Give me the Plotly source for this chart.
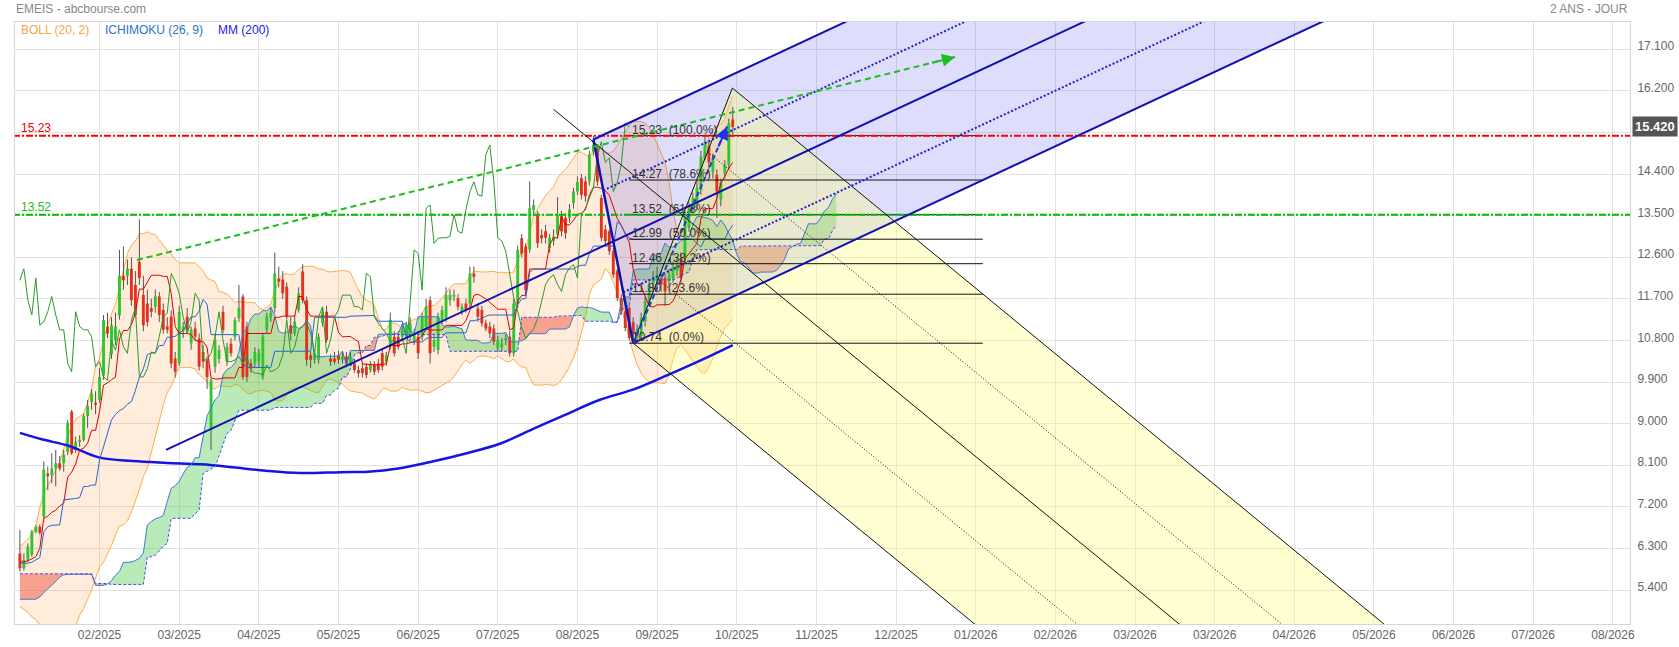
import numpy as np
import plotly.graph_objects as go

# ------------------------------------------------------------------ data (daily bars)
OPEN = [6.19, 5.87, 6.05, 6.16, 6.66, 6.77, 6.99, 7.92, 7.89, 8.03,
        8.14, 8.14, 8.39, 9.26, 8.43, 8.61, 8.65, 9.16, 9.47, 9.45,
        9.51, 10.04, 11.10, 10.50, 10.80, 11.34, 12.20, 12.20, 12.35, 12.00,
        12.50, 11.78, 11.60, 11.50, 11.53, 11.75, 11.46, 11.10, 11.31, 10.41,
        10.30, 11.00, 11.31, 10.74, 11.06, 10.84, 10.55, 10.37, 8.86, 10.23,
        10.40, 11.42, 10.34, 10.73, 10.88, 11.28, 11.75, 11.10, 10.30, 10.30,
        10.35, 10.01, 11.03, 11.30, 11.50, 12.14, 12.12, 11.96, 11.13, 10.95,
        11.46, 12.29, 11.67, 10.48, 10.38, 10.38, 11.17, 11.42, 10.41, 10.41,
        10.48, 10.38, 10.45, 10.30, 10.30, 10.16, 10.20, 10.23, 10.16, 10.27,
        10.30, 10.52, 10.34, 10.66, 10.88, 10.88, 10.88, 10.95, 10.88, 10.81,
        10.88, 10.88, 11.10, 11.67, 10.66, 10.59, 11.24, 11.28, 11.67, 11.75,
        11.71, 11.42, 11.60, 11.60, 12.25, 11.49, 11.46, 11.17, 11.10, 11.06,
        10.63, 10.66, 10.81, 10.88, 10.52, 11.60, 13.01, 12.83, 12.76, 13.62,
        13.51, 13.08, 13.16, 12.80, 12.95, 13.09, 13.49, 13.45, 13.45, 13.77,
        14.02, 14.31, 14.24, 14.24, 14.89, 14.96, 13.88, 13.20, 13.16, 12.73,
        12.30, 11.72, 11.43, 11.50, 11.20, 10.85, 10.90, 11.21, 11.65, 12.01,
        12.08, 12.15, 12.15, 12.08, 12.15, 12.30, 12.58, 12.58, 13.23, 13.66,
        13.74, 14.05, 14.78, 15.00, 14.45, 14.38, 13.85, 14.42, 14.60, 15.58]
HIGH = [6.70, 6.19, 6.41, 6.70, 6.80, 6.82, 8.18, 8.07, 8.36, 8.43,
        8.30, 8.43, 9.08, 9.30, 8.72, 8.75, 9.22, 9.51, 9.75, 9.70,
        10.20, 11.35, 11.40, 11.30, 11.40, 12.76, 12.83, 12.55, 12.60, 12.30,
        13.42, 12.20, 11.90, 11.70, 11.90, 11.85, 11.60, 11.30, 11.45, 10.55,
        11.55, 11.20, 11.50, 11.10, 11.20, 10.95, 10.70, 10.45, 9.98, 10.95,
        10.70, 11.55, 10.75, 10.85, 11.30, 12.00, 11.80, 11.20, 10.40, 10.65,
        10.62, 10.95, 11.40, 11.50, 12.70, 12.40, 12.30, 12.05, 11.30, 11.35,
        11.95, 12.45, 11.75, 10.55, 10.60, 10.95, 11.50, 11.55, 10.50, 10.55,
        10.58, 10.55, 10.55, 10.55, 10.40, 10.25, 10.30, 10.30, 10.35, 10.35,
        10.40, 10.60, 10.55, 11.40, 11.00, 11.00, 11.15, 11.20, 11.30, 11.05,
        11.00, 11.40, 11.70, 11.75, 10.95, 11.40, 11.55, 11.95, 11.90, 11.90,
        11.80, 11.60, 11.70, 12.40, 12.40, 11.60, 11.55, 11.25, 11.20, 11.15,
        10.90, 10.85, 10.95, 11.00, 11.70, 12.85, 13.10, 12.90, 14.24, 13.85,
        13.60, 13.20, 13.30, 13.10, 13.20, 13.90, 13.60, 13.55, 13.75, 14.10,
        14.35, 14.40, 14.35, 14.90, 15.23, 15.05, 13.95, 13.30, 13.20, 12.80,
        12.35, 11.80, 11.50, 11.55, 11.30, 11.15, 11.40, 11.75, 12.10, 12.30,
        12.40, 12.30, 12.25, 12.35, 12.50, 12.60, 12.70, 13.60, 13.80, 14.00,
        14.25, 14.90, 15.25, 15.10, 14.85, 14.50, 14.30, 14.70, 15.60, 15.85]
LOW = [5.80, 5.82, 6.01, 6.12, 6.63, 6.60, 6.95, 7.56, 7.71, 7.64,
       7.98, 7.96, 8.32, 8.32, 8.36, 8.50, 8.61, 8.90, 9.30, 9.20,
       9.45, 9.95, 10.85, 10.40, 10.70, 11.25, 11.90, 12.00, 11.55, 11.30,
       12.00, 11.00, 11.10, 11.30, 11.40, 11.20, 10.95, 10.95, 10.20, 10.00,
       10.25, 10.85, 10.95, 10.60, 10.80, 10.15, 10.20, 9.75, 8.43, 10.10,
       10.30, 10.95, 10.25, 10.45, 10.80, 11.20, 9.95, 9.90, 10.10, 10.20,
       10.22, 9.95, 10.95, 11.20, 11.40, 11.95, 11.70, 11.25, 10.80, 10.90,
       11.40, 11.60, 10.25, 10.20, 10.30, 10.30, 11.10, 10.75, 10.25, 10.28,
       10.30, 10.30, 10.22, 10.25, 10.10, 10.00, 10.00, 9.98, 10.10, 10.05,
       10.10, 10.15, 10.25, 10.60, 10.45, 10.60, 10.80, 10.85, 10.80, 10.70,
       10.40, 10.80, 11.05, 10.30, 10.55, 10.50, 11.15, 11.20, 11.55, 11.65,
       11.45, 11.35, 11.40, 11.50, 12.05, 11.20, 11.10, 11.00, 10.85, 10.70,
       10.55, 10.55, 10.70, 10.45, 10.45, 11.50, 12.60, 11.80, 12.70, 13.50,
       12.80, 12.90, 12.90, 12.70, 12.85, 13.00, 13.05, 13.00, 13.35, 13.65,
       13.95, 13.85, 13.80, 14.15, 14.80, 14.15, 12.95, 12.85, 12.65, 12.15,
       11.65, 11.35, 11.00, 10.80, 10.74, 10.75, 10.80, 11.10, 11.55, 11.90,
       11.95, 11.85, 11.55, 11.95, 12.05, 12.20, 12.05, 12.50, 13.15, 13.55,
       13.60, 13.95, 14.70, 14.50, 14.30, 13.45, 13.70, 14.30, 14.50, 15.25]
CLOSE = [5.87, 6.05, 6.34, 6.66, 6.77, 6.64, 8.00, 7.86, 8.03, 8.14,
         8.03, 8.32, 9.02, 8.36, 8.61, 8.65, 9.16, 9.38, 9.65, 9.41,
         10.01, 11.24, 10.95, 11.13, 11.10, 12.20, 12.10, 12.35, 11.67, 11.35,
         12.15, 11.13, 11.20, 11.42, 11.75, 11.35, 11.03, 11.03, 10.30, 10.12,
         11.42, 11.10, 11.03, 11.03, 10.88, 10.23, 10.34, 10.01, 9.94, 10.80,
         10.59, 11.03, 10.66, 10.52, 11.24, 11.50, 10.01, 10.01, 10.19, 10.55,
         10.52, 10.88, 11.31, 11.39, 12.25, 12.07, 11.82, 11.31, 10.95, 11.21,
         11.82, 11.67, 10.38, 10.38, 10.52, 10.88, 11.42, 10.81, 10.34, 10.34,
         10.38, 10.45, 10.30, 10.45, 10.16, 10.09, 10.09, 10.05, 10.27, 10.12,
         10.16, 10.23, 10.48, 11.24, 10.52, 10.66, 11.03, 11.10, 11.17, 10.95,
         10.52, 11.31, 11.53, 10.52, 10.81, 11.31, 11.46, 11.78, 11.78, 11.78,
         11.53, 11.53, 11.46, 12.25, 12.18, 11.31, 11.17, 11.06, 10.95, 10.77,
         10.81, 10.74, 10.85, 10.52, 11.60, 12.76, 12.68, 11.89, 13.66, 13.73,
         12.90, 13.01, 13.02, 13.02, 13.05, 13.52, 13.16, 13.12, 13.63, 14.02,
         14.23, 13.95, 13.92, 14.82, 15.03, 14.24, 13.02, 12.95, 12.73, 12.22,
         11.72, 11.43, 11.07, 10.85, 10.95, 11.05, 11.28, 11.65, 12.01, 12.15,
         12.22, 12.01, 11.86, 12.22, 12.37, 12.44, 12.15, 13.52, 13.66, 13.88,
         14.10, 14.78, 15.10, 14.65, 14.75, 14.02, 14.22, 14.60, 15.50, 15.42]

TENKAN_EARLY = [6.01, 6.01, 6.03, 6.08, 6.12, 6.30, 6.95, 7.00]
KIJUN_EARLY = [5.98, 5.98, 5.98, 6.00, 6.05, 6.10, 6.66, 6.77, 6.80, 6.81,
               6.81, 7.35, 7.36, 7.36, 7.38, 7.40, 7.64, 7.64, 7.67, 7.67,
               8.21, 8.50, 8.80, 9.08, 9.20]
SPAN_A_EARLY = [5.20, 5.20, 5.20, 5.20, 5.20, 5.25, 5.35, 5.43, 5.50, 5.60,
                5.68, 5.73, 5.74, 5.74, 5.74, 5.74, 5.74, 5.74, 5.74, 5.50,
                5.50, 5.50, 5.53, 5.60, 5.72, 5.80]
SPAN_B_EARLY = [5.75, 5.75, 5.75, 5.75, 5.75, 5.75, 5.75, 5.75, 5.75, 5.75,
                5.75, 5.75, 5.75, 5.75, 5.75, 5.75, 5.75, 5.75, 5.75, 5.54,
                5.54, 5.54, 5.54, 5.52, 5.52, 5.52, 5.52, 5.52, 5.52, 5.52,
                5.52, 5.52, 6.12, 6.12, 6.15, 6.25, 6.35, 6.41, 6.95, 6.95,
                6.95, 6.95, 6.95, 6.95, 7.05, 7.13, 7.92, 7.97, 8.03, 8.07,
                8.30, 8.55, 8.79, 8.85, 9.05, 9.29, 9.29, 9.29, 9.29, 9.29,
                9.29, 9.29, 9.29, 9.29, 9.35, 9.35, 9.35, 9.35, 9.35, 9.35,
                9.35, 9.35, 9.35, 9.35, 9.44, 9.44, 9.44]
BB_UP_EARLY = [6.35, 6.41, 6.50, 6.61, 6.78, 7.18, 7.50, 7.65, 7.82, 8.00,
               8.17, 8.45, 8.75, 8.92, 9.10, 9.15, 9.22, 9.45, 9.75]
BB_LO_EARLY = [5.04, 4.98, 4.92, 4.82, 4.76, 4.65, 4.48, 4.44, 4.41, 4.40,
               4.41, 4.44, 4.48, 4.54, 4.62, 4.85, 5.00, 5.20, 5.40]

MM200_BAR = [0, 5.5, 12.2, 19.8, 28.3, 36.9, 45.5, 54.1, 61.7, 70.3, 80.7, 87.4,
             95.0, 103.6, 112.2, 120.7, 129.3, 136.9, 145.5, 154.1, 162.6, 171.2, 179.0]
MM200_VAL = [8.80, 8.66, 8.52, 8.27, 8.19, 8.15, 8.12, 8.05, 7.98, 7.93, 7.95,
             7.96, 8.03, 8.18, 8.36, 8.57, 8.90, 9.19, 9.51, 9.74, 10.05,
             10.38, 10.70]

# drawing tools (bar index, price)
BLUE_FORK_BAR = [36.7, 144.0, 154.0]
BLUE_FORK_PRICE = [8.43, 15.147, 10.74]
BLACK_FORK_BAR = [134.0, 178.9, 154.0]
BLACK_FORK_PRICE = [15.80, 16.26, 10.74]
FIB_LEVELS = [15.23, 14.27, 13.52, 12.99, 12.46, 11.80, 10.74]
FIB_PCTS = [100.0, 78.6, 61.8, 50.0, 38.2, 23.6, 0.0]
FIB_BARS = [153.0, 241.8]
RED_LEVEL = 15.23
GREEN_LEVEL = 13.52
GREEN_ARROW_BAR = [29.4, 234.8]
GREEN_ARROW_PRICE = [12.54, 16.93]
BLUE_ARROW_BAR = [154.0, 177.6]
BLUE_ARROW_PRICE = [10.74, 15.43]
LAST_PRICE = 15.42

MONTH_LABELS = ["02/2025", "03/2025", "04/2025", "05/2025", "06/2025", "07/2025",
                "08/2025", "09/2025", "10/2025", "11/2025", "12/2025", "01/2026",
                "02/2026", "03/2026", "03/2026", "04/2026", "05/2026", "06/2026",
                "07/2026", "08/2026"]
MONTH_BARS = [20, 40, 60, 80, 100, 120, 140, 160, 180, 200, 220, 240, 260, 280,
              300, 320, 340, 360, 380, 400]
Y_TICKS = [5.4, 6.3, 7.2, 8.1, 9.0, 9.9, 10.8, 11.7, 12.6, 13.5, 14.4, 15.3, 16.2, 17.1]
Y_TICK_HIDDEN = 15.3   # its label sits under the last-price box

# ------------------------------------------------------------------ derived
o, h, l, c = (np.array(a, dtype=float) for a in (OPEN, HIGH, LOW, CLOSE))
n = len(c)
idx = np.arange(n)


def hl_mid(period, i):
    lo = max(0, i - period + 1)
    return (h[lo:i + 1].max() + l[lo:i + 1].min()) / 2


tenkan = np.array(TENKAN_EARLY + [hl_mid(9, i) for i in range(len(TENKAN_EARLY), n)])
kijun = np.array(KIJUN_EARLY + [hl_mid(26, i) for i in range(len(KIJUN_EARLY), n)])
cloud_x = np.arange(n + 26)
span_a = np.array([SPAN_A_EARLY[j] if j < 26 else (tenkan[j - 26] + kijun[j - 26]) / 2
                   for j in cloud_x])
span_b = np.array([SPAN_B_EARLY[j] if j < 77 else hl_mid(52, j - 26) for j in cloud_x])

bb_up, bb_lo = [], []
for i in range(n):
    if i < 19:
        bb_up.append(BB_UP_EARLY[i]); bb_lo.append(BB_LO_EARLY[i])
    else:
        w = c[i - 19:i + 1]
        bb_up.append(w.mean() + 2 * w.std()); bb_lo.append(w.mean() - 2 * w.std())

FONT = "Liberation Sans, Arial, sans-serif"
fig = go.Figure()


def add_line(x, y, color, width=1, dash=None, shape='linear'):
    fig.add_trace(go.Scatter(x=list(x), y=list(y), mode='lines', hoverinfo='skip',
                             line=dict(color=color, width=width, dash=dash, shape=shape)))


def add_poly(x, y, color):
    fig.add_trace(go.Scatter(x=list(x), y=list(y), mode='lines', fill='toself',
                             fillcolor=color, line=dict(width=0), hoverinfo='skip'))


# Bollinger band
fig.add_trace(go.Scatter(x=idx, y=bb_up, mode='lines', line=dict(color='#ffab4a', width=1),
                         hoverinfo='skip'))
fig.add_trace(go.Scatter(x=idx, y=bb_lo, mode='lines', line=dict(color='#ffab4a', width=1),
                         fill='tonexty', fillcolor='rgba(255,160,70,0.2)', hoverinfo='skip'))

# Ichimoku cloud
runs = []
cur = None
for k in range(len(cloud_x)):
    x, av, bv = float(cloud_x[k]), span_a[k], span_b[k]
    s = 1 if av >= bv else -1
    if cur is None:
        cur = [s, [x], [av], [bv]]
        continue
    if s != cur[0]:
        x0, a0, b0 = cur[1][-1], cur[2][-1], cur[3][-1]
        d0, d1 = a0 - b0, av - bv
        t = d0 / (d0 - d1) if d0 != d1 else 0.0
        xm, ym = x0 + t * (x - x0), a0 + t * (av - a0)
        cur[1].append(xm); cur[2].append(ym); cur[3].append(ym)
        runs.append(cur)
        cur = [s, [xm, x], [ym, av], [ym, bv]]
    else:
        cur[1].append(x); cur[2].append(av); cur[3].append(bv)
runs.append(cur)
for sign, col in ((1, 'rgba(70,200,70,0.38)'), (-1, 'rgba(240,70,50,0.45)')):
    px, py_ = [], []
    for r in runs:
        if r[0] == sign:
            px += r[1] + r[1][::-1] + [None]
            py_ += r[2] + r[3][::-1] + [None]
    if px:
        add_poly(px, py_, col)

# Pitchfork geometry
X_FAR = 460.0


def fork(bars, prices):
    i1, i2, i3 = bars
    p1, p2, p3 = prices
    mi, mp = (i2 + i3) / 2, (p2 + p3) / 2
    m = (mp - p1) / (mi - i1)

    def ext(i0, p0):
        return [i0, X_FAR], [p0, p0 + m * (X_FAR - i0)]
    q1 = (i2 + 0.25 * (i3 - i2), p2 + 0.25 * (p3 - p2))
    q3 = (i2 + 0.75 * (i3 - i2), p2 + 0.75 * (p3 - p2))
    return dict(median=ext(i1, p1), upper=ext(i2, p2), lower=ext(i3, p3),
                q1=ext(*q1), q3=ext(*q3))


bf = fork(BLUE_FORK_BAR, BLUE_FORK_PRICE)
kf = fork(BLACK_FORK_BAR, BLACK_FORK_PRICE)

add_poly([bf['upper'][0][0], X_FAR, X_FAR, bf['lower'][0][0], bf['upper'][0][0]],
         [bf['upper'][1][0], bf['upper'][1][1], bf['lower'][1][1], bf['lower'][1][0],
          bf['upper'][1][0]], 'rgba(60,60,235,0.17)')
add_poly([kf['upper'][0][0], X_FAR, X_FAR, kf['lower'][0][0], kf['upper'][0][0]],
         [kf['upper'][1][0], kf['upper'][1][1], kf['lower'][1][1], kf['lower'][1][0],
          kf['upper'][1][0]], 'rgba(255,255,120,0.34)')

# candles
wx, wy = [], []
for i in idx:
    wx += [i, i, None]; wy += [l[i], h[i], None]
add_line(wx, wy, '#555555', 1)
BW = 0.36
for up, col in ((True, '#2fc52f'), (False, '#e2311d')):
    bx, by = [], []
    for i in idx:
        if (c[i] >= o[i]) != up:
            continue
        lo_, hi_ = min(o[i], c[i]), max(o[i], c[i])
        hi_ = max(hi_, lo_ + 0.03)
        bx += [i - BW, i + BW, i + BW, i - BW, i - BW, None]
        by += [lo_, lo_, hi_, hi_, lo_, None]
    add_poly(bx, by, col)

# MM200
add_line(MM200_BAR, MM200_VAL, '#1414e6', 2.5, shape='spline')

# Ichimoku lines
add_line(cloud_x, span_a, '#3f78d6', 1)
add_line(cloud_x, span_b, '#4a4af2', 1, dash='3px,2px')
add_line(idx, tenkan, '#e00000', 1)
add_line(idx, kijun, '#2468cf', 1)
add_line(idx[26:] - 26, c[26:], '#2a9a2a', 1)

# Fibonacci
for lev in FIB_LEVELS:
    add_line(FIB_BARS, [lev, lev], '#111111', 1)

# horizontal levels
add_line([-5, 420], [RED_LEVEL, RED_LEVEL], '#ff0000', 2, dash='7px,2px,2px,2px')
add_line([-5, 420], [GREEN_LEVEL, GREEN_LEVEL], '#00bb00', 2, dash='7px,2px,2px,2px')

# blue pitchfork lines
for key in ('upper', 'median', 'lower'):
    add_line(bf[key][0], bf[key][1], '#1212b0', 2)
for key in ('q1', 'q3'):
    add_line(bf[key][0], bf[key][1], '#2020c8', 2, dash='2px,2px')
add_line(BLUE_FORK_BAR[1:], BLUE_FORK_PRICE[1:], '#1212b0', 2.5)

# black pitchfork lines
for key in ('upper', 'median', 'lower'):
    add_line(kf[key][0], kf[key][1], '#111111', 1)
for key in ('q1', 'q3'):
    add_line(kf[key][0], kf[key][1], '#111111', 1, dash='1px,2px')
add_line(BLACK_FORK_BAR[1:], BLACK_FORK_PRICE[1:], '#111111', 1)

# arrows
add_line(GREEN_ARROW_BAR, GREEN_ARROW_PRICE, '#22bb22', 2, dash='6px,4px')
add_line(BLUE_ARROW_BAR, BLUE_ARROW_PRICE, '#2233ee', 2, dash='5px,3px')

annotations = []


def arrow_head(bars, prices, color):
    t = 0.9 if bars[1] - bars[0] < 50 else 0.97
    annotations.append(dict(x=bars[1], y=prices[1], xref='x', yref='y',
                            ax=bars[0] + t * (bars[1] - bars[0]),
                            ay=prices[0] + t * (prices[1] - prices[0]),
                            axref='x', ayref='y', text='', showarrow=True,
                            arrowhead=2, arrowsize=1.3, arrowwidth=2, arrowcolor=color,
                            standoff=0))


arrow_head(GREEN_ARROW_BAR, GREEN_ARROW_PRICE, '#22bb22')
arrow_head(BLUE_ARROW_BAR, BLUE_ARROW_PRICE, '#2233ee')

for lev, pct in zip(FIB_LEVELS, FIB_PCTS):
    annotations.append(dict(x=FIB_BARS[0] + 0.2, y=lev, xref='x', yref='y',
                            xanchor='left', yanchor='bottom', yshift=-3, showarrow=False,
                            text=f"{lev:.2f}\u00a0\u00a0({pct:.1f}%)",
                            font=dict(family=FONT, size=12, color='#333333')))

annotations.append(dict(x=-0.3, y=RED_LEVEL, xref='x', yref='y', xanchor='left',
                        yanchor='bottom', yshift=-1, showarrow=False, text=f"{RED_LEVEL:.2f}",
                        font=dict(family=FONT, size=12, color='#ee0000')))
annotations.append(dict(x=-0.3, y=GREEN_LEVEL, xref='x', yref='y', xanchor='left',
                        yanchor='bottom', yshift=-1, showarrow=False,
                        text=f"{GREEN_LEVEL:.2f}",
                        font=dict(family=FONT, size=12, color='#22bb22')))
annotations.append(dict(x=1, y=LAST_PRICE, xref='paper', yref='y', xanchor='left',
                        xshift=2, showarrow=False, text=f"<b>{LAST_PRICE:.3f}</b>",
                        bgcolor='#555555', borderpad=2,
                        font=dict(family=FONT, size=13, color='white')))

PLOT_T, PLOT_B, PLOT_L, PLOT_R = 22, 624, 15, 1630


def py(pix):
    return (PLOT_B - pix) / (PLOT_B - PLOT_T)


def pxx(pix):
    return (pix - PLOT_L) / (PLOT_R - PLOT_L)


annotations += [
    dict(x=pxx(14), y=py(9), xref='paper', yref='paper', xanchor='left', yanchor='middle',
         showarrow=False, text='EMEIS - abcbourse.com',
         font=dict(family=FONT, size=12, color='#888888')),
    dict(x=pxx(1630), y=py(9), xref='paper', yref='paper', xanchor='right',
         yanchor='middle', showarrow=False, text='2 ANS - JOUR',
         font=dict(family=FONT, size=12, color='#888888')),
    dict(x=pxx(19), y=py(30), xref='paper', yref='paper', xanchor='left', yanchor='middle',
         showarrow=False, text='BOLL (20, 2)', font=dict(family=FONT, size=12, color='#f5a642')),
    dict(x=pxx(102.5), y=py(30), xref='paper', yref='paper', xanchor='left',
         yanchor='middle', showarrow=False, text='ICHIMOKU (26, 9)',
         font=dict(family=FONT, size=12, color='#2b73c9')),
    dict(x=pxx(216), y=py(30), xref='paper', yref='paper', xanchor='left', yanchor='middle',
         showarrow=False, text='MM (200)', font=dict(family=FONT, size=12, color='#2222ee')),
]

BAR0_PX = 19.9
PX_PER_BAR = 3.9825
x_left = (PLOT_L - BAR0_PX) / PX_PER_BAR
x_right = x_left + (PLOT_R - PLOT_L) / PX_PER_BAR
ppu = 46.22
y_bot = 5.4 - (PLOT_B - 590) / ppu
y_top = y_bot + (PLOT_B - PLOT_T) / ppu
y_ticktext = ['' if abs(v - Y_TICK_HIDDEN) < 1e-9 else f"{v:.3f}" for v in Y_TICKS]

fig.update_layout(
    width=1679, height=647,
    margin=dict(l=PLOT_L, r=1679 - PLOT_R, t=PLOT_T, b=647 - PLOT_B, pad=0,
                autoexpand=False),
    paper_bgcolor='white', plot_bgcolor='white', showlegend=False, hovermode=False,
    font=dict(family=FONT, size=12, color='#666666'),
    annotations=annotations,
    xaxis=dict(range=[x_left, x_right], tickvals=MONTH_BARS, ticktext=MONTH_LABELS,
               showgrid=True, gridcolor='#e2e2e2', gridwidth=1, zeroline=False,
               showline=True, linecolor='#d6d6d6', mirror=True, ticks='',
               automargin=False, ticklabelstandoff=0,
               tickfont=dict(family=FONT, size=12, color='#666666')),
    yaxis=dict(range=[y_bot, y_top], side='right', tickvals=Y_TICKS, ticktext=y_ticktext,
               showgrid=True, gridcolor='#e2e2e2', gridwidth=1, zeroline=False,
               showline=True, linecolor='#d6d6d6', mirror=True, ticks='',
               automargin=False, ticklabelstandoff=4, ticklabelshift=-3,
               tickfont=dict(family=FONT, size=12, color='#666666')),
)

fig.write_html("out.html", config={'displayModeBar': False},
               post_script="document.body.style.margin='0';document.body.style.overflow='hidden';")
